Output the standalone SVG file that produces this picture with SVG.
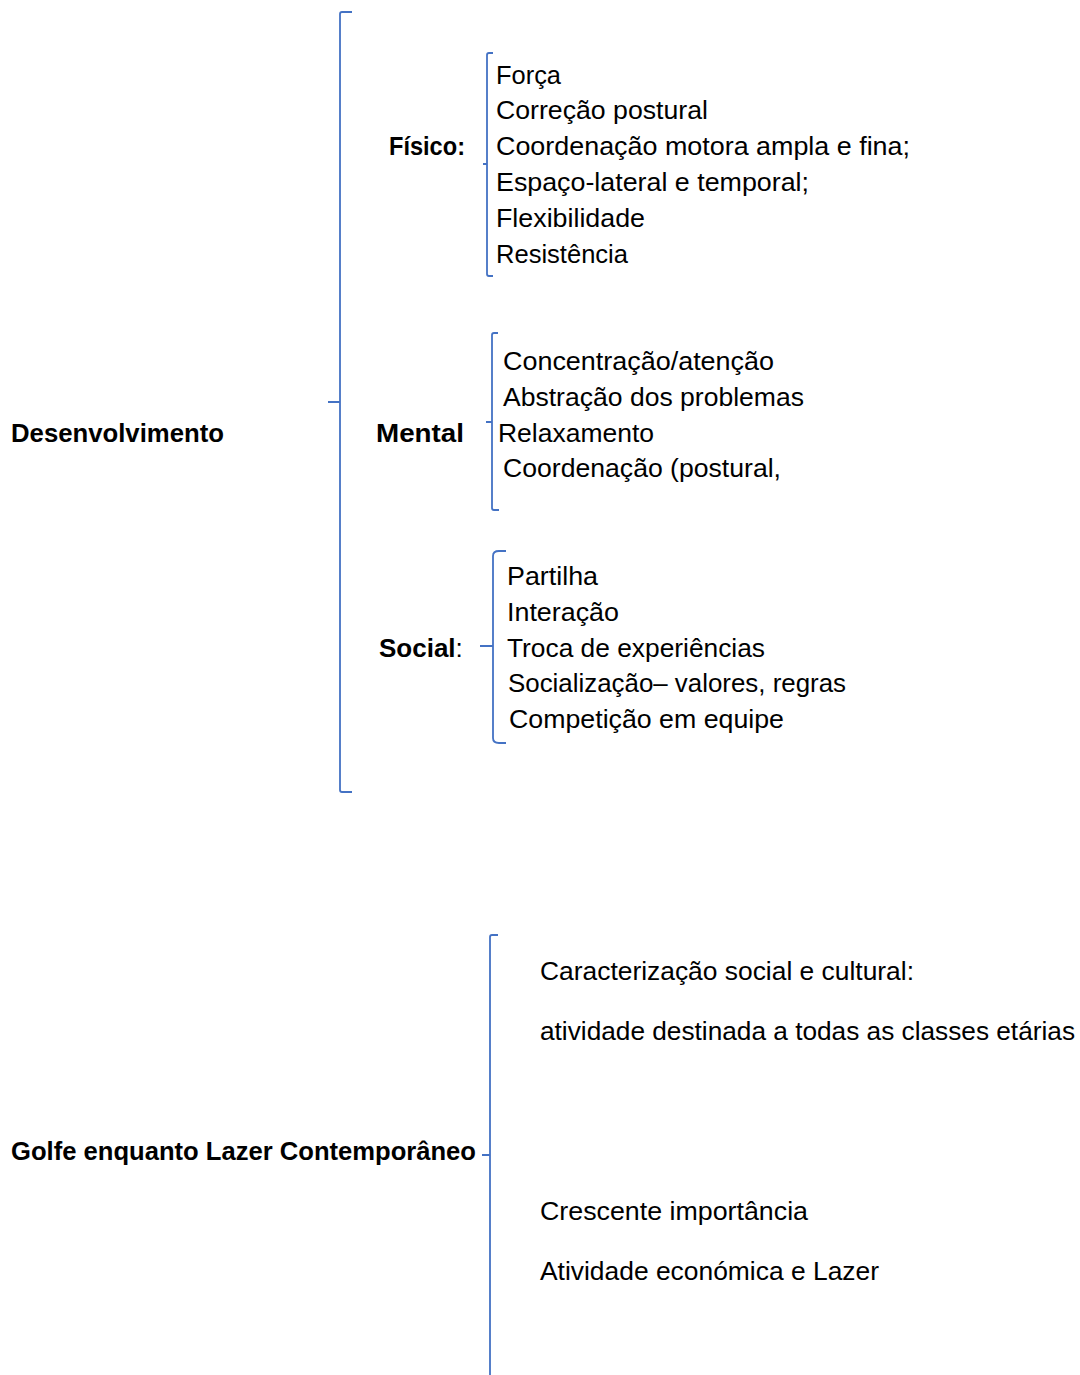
<svg xmlns="http://www.w3.org/2000/svg" width="1080" height="1375" viewBox="0 0 1080 1375">
<style>
text{font-family:"Liberation Sans",Arial,sans-serif;font-size:26px;fill:#000}
.b{font-weight:bold}
.br{fill:none;stroke:#4472C4;stroke-width:1.8}
</style>
<rect width="1080" height="1375" fill="#fff"/>
<g id="connectors">
<path class="br" d="M352,12 L342,12 Q340,12 340,14 L340,402 M328,402 L340,402 M340,402 L340,790 Q340,792 342,792 L352,792"/>
<path class="br" d="M493,53 L489,53 Q487,53 487,55 L487,274 Q487,276 489,276 L493,276 M483,164 L487,164"/>
<path class="br" d="M498,333 L494,333 Q492,333 492,335 L492,508 Q492,510 494,510 L499,510 M486,422 L492,422"/>
<path class="br" d="M506,551 L499,551 Q493,551 493,556 L493,738 Q493,743 499,743 L506,743 M480,646 L493,646"/>
<path class="br" d="M498,935 L492,935 Q490,935 490,937 L490,1375 M482,1155 L490,1155"/>
</g>
<g id="desenvolvimento"><text class="b" x="11" y="442" textLength="213" lengthAdjust="spacingAndGlyphs">Desenvolvimento</text></g>
<g id="fisico">
<text class="b" x="389" y="155" textLength="76" lengthAdjust="spacingAndGlyphs">Físico:</text>
<text x="496" y="84" textLength="65" lengthAdjust="spacingAndGlyphs">Força</text>
<text x="496" y="119" textLength="212" lengthAdjust="spacingAndGlyphs">Correção postural</text>
<text x="496" y="155" textLength="414" lengthAdjust="spacingAndGlyphs">Coordenação motora ampla e fina;</text>
<text x="496" y="191" textLength="313" lengthAdjust="spacingAndGlyphs">Espaço-lateral e temporal;</text>
<text x="496" y="227" textLength="149" lengthAdjust="spacingAndGlyphs">Flexibilidade</text>
<text x="496" y="263" textLength="132" lengthAdjust="spacingAndGlyphs">Resistência</text>
</g>
<g id="mental">
<text class="b" x="376" y="442" textLength="88" lengthAdjust="spacingAndGlyphs">Mental</text>
<text x="503" y="370" textLength="271" lengthAdjust="spacingAndGlyphs">Concentração/atenção</text>
<text x="503" y="406" textLength="301" lengthAdjust="spacingAndGlyphs">Abstração dos problemas</text>
<text x="498" y="442" textLength="156" lengthAdjust="spacingAndGlyphs">Relaxamento</text>
<text x="503" y="477" textLength="278" lengthAdjust="spacingAndGlyphs">Coordenação (postural,</text>
</g>
<g id="social">
<text x="379" y="657"><tspan class="b">Social</tspan>:</text>
<text x="507" y="585" textLength="91" lengthAdjust="spacingAndGlyphs">Partilha</text>
<text x="507" y="621" textLength="112" lengthAdjust="spacingAndGlyphs">Interação</text>
<text x="507" y="657" textLength="258" lengthAdjust="spacingAndGlyphs">Troca de experiências</text>
<text x="508" y="692" textLength="338" lengthAdjust="spacingAndGlyphs">Socialização– valores, regras</text>
<text x="509" y="728" textLength="275" lengthAdjust="spacingAndGlyphs">Competição em equipe</text>
</g>
<g id="golfe"><text class="b" x="11" y="1160" textLength="465" lengthAdjust="spacingAndGlyphs">Golfe enquanto Lazer Contemporâneo</text></g>
<g id="golfe-items">
<text x="540" y="980" textLength="374" lengthAdjust="spacingAndGlyphs">Caracterização social e cultural:</text>
<text x="540" y="1040" textLength="535" lengthAdjust="spacingAndGlyphs">atividade destinada a todas as classes etárias</text>
<text x="540" y="1220" textLength="268" lengthAdjust="spacingAndGlyphs">Crescente importância</text>
<text x="540" y="1280" textLength="339" lengthAdjust="spacingAndGlyphs">Atividade económica e Lazer</text>
</g>
</svg>
